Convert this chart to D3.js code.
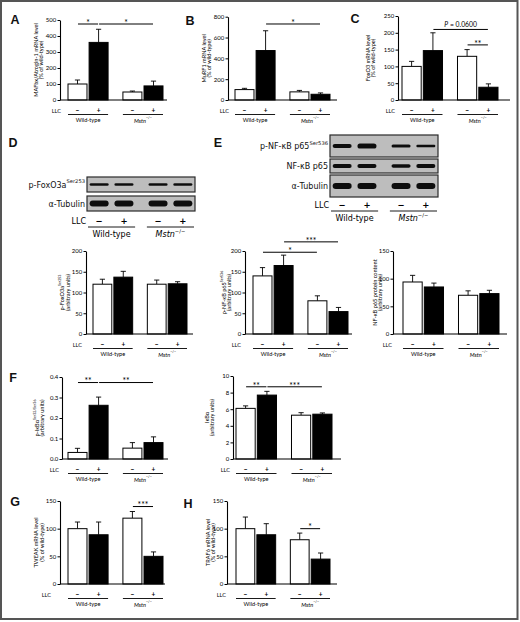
<!DOCTYPE html>
<html><head><meta charset="utf-8">
<script src="https://cdn.jsdelivr.net/npm/d3@7/dist/d3.min.js"></script>
<style>body{margin:0;background:#fff}svg{display:block}</style>
</head><body>
<svg id="fig" width="520" height="622"></svg>
<script>
// ---------- DATA ----------
const groups = ["Wild-type", "Mstn"];
const llc = ["−", "+"];

const mafbxMean = [100, 360, 50, 88],  mafbxSem = [25, 82, 6, 30];
const mafbxTicks = [0, 100, 200, 300, 400, 500];
const mafbxSig = [[0, 1, 475, "*"], [1, 3, 475, "*"]];

const murfMean = [100, 475, 78, 55],   murfSem = [12, 190, 14, 13];
const murfTicks = [0, 200, 400, 600, 800];
const murfSig = [[1, 3, 730, "*"]];

const foxoMean = [100, 147, 130, 38],  foxoSem = [15, 53, 20, 10];
const foxoTicks = [0, 50, 100, 150, 200, 250];
const foxoSig = [[1, 3, 210, "P = 0.0600"], [2, 3, 164, "**"]];

const pfoxMean = [120, 137, 120, 121], pfoxSem = [12, 14, 10, 5];
const pfoxTicks = [0, 50, 100, 150, 200];
const pfoxSig = [];

const pnfMean = [140, 165, 80, 54],    pnfSem = [20, 25, 12, 10];
const pnfTicks = [0, 50, 100, 150, 200];
const pnfSig = [[0, 2, 197, "*"], [1, 3, 222, "***"]];

const nfMean = [94, 85, 70, 73],       nfSem = [12, 7, 8, 6];
const nfTicks = [0, 50, 100, 150];
const nfSig = [];

const pikMean = [0.032, 0.262, 0.053, 0.08], pikSem = [0.02, 0.04, 0.027, 0.028];
const pikTicks = [0, 0.1, 0.2, 0.3, 0.4];
const pikSig = [[0, 1, 0.373, "**"], [1, 3, 0.373, "**"]];

const ikMean = [6.1, 7.7, 5.28, 5.4],  ikSem = [0.3, 0.45, 0.3, 0.15];
const ikTicks = [0, 2, 4, 6, 8, 10];
const ikSig = [[0, 1, 8.7, "**"], [1, 3, 8.7, "***"]];

const tweakMean = [100, 89, 119, 50],  tweakSem = [12, 23, 12, 8];
const tweakTicks = [0, 50, 100, 150];
const tweakSig = [[2, 3, 140, "***"]];

const trafMean = [100, 89, 80, 45],    trafSem = [21, 20, 12, 11];
const trafTicks = [0, 50, 100, 150];
const trafSig = [[2, 3, 100, "*"]];

// western blot band strengths (apparent band thickness per lane)
const blotD = [
  {name: "p-FoxO3a", sup: "Ser253", bands: [2.6, 2.6, 2.5, 2.6]},
  {name: "α-Tubulin", sup: "", bands: [6, 6, 6, 6]}
];
const blotE = [
  {name: "p-NF-κB p65", sup: "Ser536", bands: [4.2, 5.2, 3.2, 2.4]},
  {name: "NF-κB p65", sup: "", bands: [4, 3.8, 3.4, 3.8]},
  {name: "α-Tubulin", sup: "", bands: [6, 6, 6, 6]}
];

// ---------- LAYOUT ----------
const svg = d3.select("#fig");
const FONT = "Lato, 'Open Sans', sans-serif";
const BFONT = "'DejaVu Sans', sans-serif";

svg.append("rect").attr("x", 0).attr("y", 0).attr("width", 520).attr("height", 622).attr("fill", "#fff");
svg.append("rect").attr("x", 1).attr("y", 1).attr("width", 516.5).attr("height", 618)
  .attr("fill", "none").attr("stroke", "#555").attr("stroke-width", 2);

const defs = svg.append("defs");
defs.append("filter").attr("id", "blur").attr("x", "-20%").attr("y", "-50%").attr("width", "140%").attr("height", "200%")
  .append("feGaussianBlur").attr("stdDeviation", 0.55);

function addSuperText(sel, name, sup, size, italicName) {
  sel.append("tspan").text(name).attr("font-style", italicName ? "italic" : null);
  if (sup) sel.append("tspan").text(sup).attr("dy", -size * 0.4).attr("font-size", size * 0.65);
}

function panelLetter(t, x, y) {
  svg.append("text").attr("x", x).attr("y", y).text(t)
    .attr("font-family", "'Liberation Sans', Arial, sans-serif").attr("font-weight", "bold")
    .attr("font-size", 12.5).attr("text-anchor", "middle").attr("fill", "#111");
}

function groupScales(r0, r1, pi) {
  const gx = d3.scaleBand().domain(groups).range([r0, r1]).paddingInner(pi);
  const ix = d3.scaleBand().domain(llc).range([0, gx.bandwidth()]).paddingInner(0.1);
  return {gx, ix};
}

function underLabels(g, gx, ix, opt) {
  // LLC row
  g.append("text").attr("x", opt.llcX).attr("y", opt.llcY).text("LLC")
    .attr("text-anchor", "end").attr("font-size", opt.fs).attr("font-family", opt.font).attr("dominant-baseline", "central");
  const cells = [];
  groups.forEach(gr => llc.forEach(l => cells.push({gr, l})));
  g.selectAll("text.pm").data(cells).join("text")
    .attr("x", d => gx(d.gr) + ix(d.l) + ix.bandwidth() / 2).attr("y", opt.llcY)
    .attr("text-anchor", "middle").attr("dominant-baseline", "central")
    .attr("font-size", opt.pmfs).attr("font-weight", "bold").attr("font-family", opt.font)
    .text(d => d.l);
  g.selectAll("line.ul").data(groups).join("line")
    .attr("x1", d => gx(d) + opt.ulIn).attr("x2", d => gx(d) + gx.bandwidth() - opt.ulIn)
    .attr("y1", opt.ulY).attr("y2", opt.ulY).attr("stroke", "#000").attr("stroke-width", 0.9);
  groups.forEach(gr => {
    const t = g.append("text").attr("x", gx(gr) + gx.bandwidth() / 2).attr("y", opt.grY)
      .attr("text-anchor", "middle").attr("dominant-baseline", "central")
      .attr("font-size", opt.fs).attr("font-family", opt.font);
    if (gr === "Mstn") addSuperText(t, "Mstn", "−/−", opt.fs, true);
    else t.text(gr);
  });
}

function drawBars(p) {
  const g = svg.append("g");
  const yMax = p.ticks[p.ticks.length - 1];
  const y = d3.scaleLinear().domain([0, yMax]).range([p.yB, p.yT]);
  const {gx, ix} = groupScales(p.b0, p.b1, 0.27);
  const rows = p.mean.map((m, i) => ({gr: groups[Math.floor(i / 2)], l: llc[i % 2], m, s: p.sem[i]}));
  const xb = d => gx(d.gr) + ix(d.l);
  const xc = i => xb(rows[i]) + ix.bandwidth() / 2;

  // error bars (upper only)
  g.selectAll("line.eb").data(rows).join("line")
    .attr("x1", d => xb(d) + ix.bandwidth() / 2).attr("x2", d => xb(d) + ix.bandwidth() / 2)
    .attr("y1", d => y(d.m)).attr("y2", d => y(d.m + d.s)).attr("stroke", "#000").attr("stroke-width", 0.9);
  g.selectAll("line.cap").data(rows).join("line")
    .attr("x1", d => xb(d) + ix.bandwidth() / 2 - 2.6).attr("x2", d => xb(d) + ix.bandwidth() / 2 + 2.6)
    .attr("y1", d => y(d.m + d.s)).attr("y2", d => y(d.m + d.s)).attr("stroke", "#000").attr("stroke-width", 0.9);
  // bars
  g.selectAll("rect.bar").data(rows).join("rect")
    .attr("x", xb).attr("width", ix.bandwidth())
    .attr("y", d => y(d.m)).attr("height", d => p.yB - y(d.m))
    .attr("fill", d => d.l === "+" ? "#000" : "#fff")
    .attr("stroke", "#000").attr("stroke-width", 1);

  // y axis
  const ya = g.append("g").attr("transform", `translate(${p.ax},0)`)
    .call(d3.axisLeft(y).tickValues(p.ticks).tickSize(2.5).tickSizeOuter(0).tickPadding(1.2)
      .tickFormat(p.fmt || d3.format("d")));
  ya.select(".domain").attr("stroke", "#000").attr("stroke-width", 1.1);
  ya.selectAll(".tick line").attr("stroke", "#000").attr("stroke-width", 1);
  ya.selectAll(".tick text").attr("font-size", 6).attr("font-family", FONT).attr("fill", "#000");
  // x axis line
  g.append("line").attr("x1", p.ax).attr("x2", p.xEnd).attr("y1", p.yB).attr("y2", p.yB)
    .attr("stroke", "#000").attr("stroke-width", 1.1);

  // y labels
  const cy = (p.yT + p.yB) / 2;
  p.label.forEach((lab, k) => {
    const x = p.ax + p.lx[k];
    const t = g.append("text").attr("transform", `translate(${x},${cy}) rotate(-90)`)
      .attr("text-anchor", "middle").attr("dominant-baseline", "central")
      .attr("font-size", 5.6).attr("font-family", FONT).attr("fill", "#000");
    if (Array.isArray(lab)) addSuperText(t, lab[0], lab[1], 5.6, false);
    else t.text(lab);
  });

  // significance
  p.sig.forEach(s => {
    const x1 = xc(s[0]) + 0.5, x2 = xc(s[1]) - 0.5, yy = y(s[2]);
    g.append("line").attr("x1", x1).attr("x2", x2).attr("y1", yy).attr("y2", yy)
      .attr("stroke", "#000").attr("stroke-width", 1);
    const t = g.append("text").attr("x", (x1 + x2) / 2).attr("text-anchor", "middle")
      .attr("font-family", FONT).attr("fill", "#000");
    if (s[3].startsWith("P")) {
      t.attr("y", yy - 2.5).attr("font-size", 6.8);
      t.append("tspan").text("P").attr("font-style", "italic");
      t.append("tspan").text(s[3].slice(1));
    } else {
      t.attr("y", yy + 1.8).attr("font-size", 8.5).text(s[3]);
    }
  });

  underLabels(g, gx, ix, {llcX: p.ax + p.llcDx, llcY: p.yB + 10, ulY: p.yB + 14.5, grY: p.yB + 19.5,
    fs: 5.6, pmfs: 6.5, font: FONT, ulIn: 0});
}

function drawBlot(b) {
  const g = svg.append("g");
  const {gx, ix} = groupScales(b.x0 + 1, b.x1 - 1, 0.2);
  const lanes = [];
  groups.forEach(gr => llc.forEach(l => lanes.push(gx(gr) + ix(l) + ix.bandwidth() / 2)));
  b.rows.forEach((r, k) => {
    const [y0, y1] = b.ys[k];
    g.append("rect").attr("x", b.x0).attr("y", y0).attr("width", b.x1 - b.x0).attr("height", y1 - y0)
      .attr("fill", "#bdbdbd").attr("stroke", "#2a2a2a").attr("stroke-width", 1.2);
    const mid = (y0 + y1) / 2;
    const t = g.append("text").attr("x", b.x0 - 2).attr("y", mid).attr("text-anchor", "end")
      .attr("dominant-baseline", "central").attr("font-size", 8).attr("font-family", BFONT).attr("fill", "#111");
    addSuperText(t, r.name, r.sup, 8, false);
    g.selectAll(null).data(r.bands).join("rect")
      .attr("x", (d, i) => lanes[i] - 9.5).attr("width", 19)
      .attr("y", d => mid - d / 2).attr("height", d => d).attr("rx", d => Math.min(d / 2, 4))
      .attr("fill", "#111").attr("filter", "url(#blur)");
  });
  underLabels(g, gx, ix, {llcX: b.x0 - 1, llcY: b.llcY, ulY: b.llcY + 6, grY: b.llcY + 13,
    fs: 8, pmfs: 8.5, font: BFONT, ulIn: 0});
}

const wt = "(% of wild-type)", au = "(arbitrary units)";
const panels = [
  {mean: mafbxMean, sem: mafbxSem, ticks: mafbxTicks, sig: mafbxSig, label: ["MAFbx/Atrogin-1 mRNA level", wt],
   ax: 60, xEnd: 167, b0: 68, b1: 163, yT: 20, yB: 100, lx: [-25, -19.5], llcDx: 1},
  {mean: murfMean, sem: murfSem, ticks: murfTicks, sig: murfSig, label: ["MuRF1 mRNA level", wt],
   ax: 228, xEnd: 337, b0: 235, b1: 330, yT: 16.7, yB: 100, lx: [-25, -19.5], llcDx: 1},
  {mean: foxoMean, sem: foxoSem, ticks: foxoTicks, sig: foxoSig, label: ["FoxO3 mRNA level", wt],
   ax: 398, xEnd: 510, b0: 402, b1: 498, yT: 16, yB: 100, lx: [-30.5, -25.5], llcDx: -3},
  {mean: pfoxMean, sem: pfoxSem, ticks: pfoxTicks, sig: pfoxSig, label: [["p-FoxO3a", "Ser253"], au],
   ax: 86, xEnd: 193, b0: 93, b1: 187, yT: 251, yB: 334, lx: [-25, -19], llcDx: -4},
  {mean: pnfMean, sem: pnfSem, ticks: pnfTicks, sig: pnfSig, label: [["p-NF-κB p65", "Ser536"], au],
   ax: 245, xEnd: 352, b0: 253, b1: 348, yT: 251, yB: 334, lx: [-22, -16.5], llcDx: -4},
  {mean: nfMean, sem: nfSem, ticks: nfTicks, sig: nfSig, label: ["NF-κB p65 protein content", au],
   ax: 393, xEnd: 507, b0: 403, b1: 499, yT: 251, yB: 334, lx: [-19, -13.5], llcDx: -1},
  {mean: pikMean, sem: pikSem, ticks: pikTicks, sig: pikSig, label: [["p-IκBα", "Ser32/Ser36"], au], fmt: d3.format(".1f"),
   ax: 62, xEnd: 168, b0: 68, b1: 163, yT: 377, yB: 459, lx: [-26, -20.5], llcDx: -3},
  {mean: ikMean, sem: ikSem, ticks: ikTicks, sig: ikSig, label: ["IκBα", au],
   ax: 233, xEnd: 341, b0: 236, b1: 332, yT: 376, yB: 459, lx: [-27, -21.5], llcDx: -3},
  {mean: tweakMean, sem: tweakSem, ticks: tweakTicks, sig: tweakSig, label: ["TWEAK mRNA level", wt],
   ax: 60, xEnd: 165, b0: 68, b1: 163, yT: 501, yB: 584, lx: [-25, -19], llcDx: -9},
  {mean: trafMean, sem: trafSem, ticks: trafTicks, sig: trafSig, label: ["TRAF6 mRNA level", wt],
   ax: 227, xEnd: 337, b0: 236, b1: 330, yT: 501, yB: 584, lx: [-20, -14.5], llcDx: -1}
];
panels.forEach(drawBars);

drawBlot({rows: blotD, x0: 87, x1: 195, ys: [[177, 192], [196, 211]], llcY: 221});
drawBlot({rows: blotE, x0: 330, x1: 438, ys: [[135, 157], [159, 173], [175, 197]], llcY: 205});

panelLetter("A", 15, 24);
panelLetter("B", 190, 25);
panelLetter("C", 355, 23);
panelLetter("D", 13, 147);
panelLetter("E", 218, 147);
panelLetter("F", 13, 382);
panelLetter("G", 15, 506);
panelLetter("H", 188, 508);
</script>
</body></html>
